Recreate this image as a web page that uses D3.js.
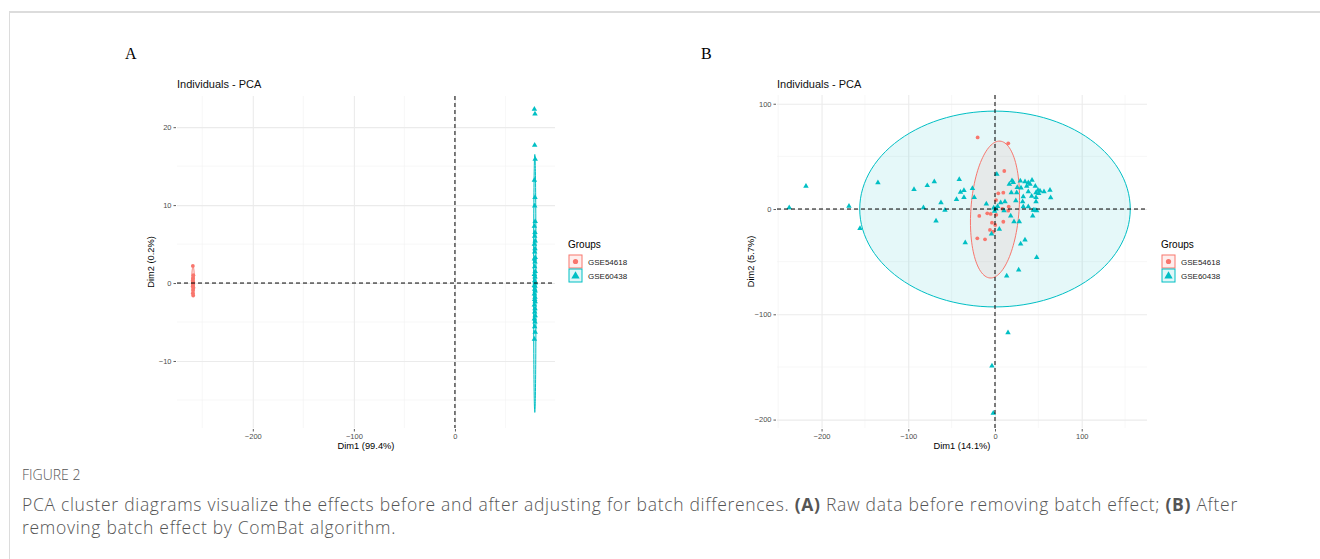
<!DOCTYPE html>
<html>
<head>
<meta charset="utf-8">
<script src="https://cdn.jsdelivr.net/npm/d3@7"></script>
<style>
  body { margin: 0; background: #fff; }
  text { font-family: "Liberation Sans", Arial, sans-serif; }
  text.cap { font-family: "Open Sans", "Noto Sans", sans-serif; fill: #555; font-weight: 300; }
</style>
</head>
<body>
<script>
// ---- data ----
var groups = ["GSE54618", "GSE60438"];
var groupColors = ["#F8766D", "#00BFC4"];

// panel A: raw data
var aRedX = [-259.3, -258.8, -259.1, -259.5, -258.9, -259.2, -259.0, -259.4, -258.7, -259.1, -259.3, -259.0];
var aRedY = [2.2, 1.0, 0.6, 0.3, 0.1, 0.0, -0.2, -0.4, -0.6, -0.9, -1.3, -1.6];
var aCyanY = [22.3, 21.7, 17.7, 15.9, 13.2, 11.0, 9.9, 7.9, 7.3, 6.5, 6.0, 5.4, 5.0, 4.4, 4.0, 3.3,
              3.1, 2.7, 2.1, 1.5, 1.1, 0.8, 0.3, 0.0, -0.3, -0.4, -0.8, -1.0, -1.4, -1.8, -2.1,
              -2.4, -2.8, -3.3, -3.7, -4.2, -4.6, -5.0, -5.6, -6.3, -7.2];
var aCyanX = aCyanY.map(function(d, i) { return [78.6, 79.2, 78.9, 79.4][i % 4]; });

// panel B: after ComBat
var bRed = [[-20, 68], [15.3, 62.4], [10.7, 36.1], [1.2, 8.5], [3.8, 14.9], [9.6, 15.5], [15.8, 2.2],
            [15.3, -1.6], [-18.1, -6.6], [-8.9, -4.1], [-5, -4.7], [-3.5, -13], [0.3, -15.2],
            [-5.8, -19.9], [9.6, -12.1], [-20.4, -27.8], [-11.5, -28.8], [-2, -21.6], [8.5, 0.2], [1.5, -5.5]];
var bCyan = [[-237.3, 1.2], [-218, 21.8], [-168.4, 2.8], [-155.7, -18.5], [-135, 25], [-93.4, 18.7],
             [-82.5, 1.2], [-78.1, 22.3], [-70, 25.9], [-68, -11.4], [-62.3, 6], [-57.7, -1], [-44.4, 9.2],
             [-41.2, 28.2], [-39.8, 15.9], [-35.8, 17.6], [-35.8, 11.1], [-26, 19.5], [-23.9, 11.1],
             [-34.3, -32], [-10, 4.9], [2.1, 33], [-1.5, 1], [1.2, 0], [-4, -23.7], [5, -19.2], [6.6, 6],
             [11.5, 6.9], [10.4, -1.6], [18.1, -6.6], [13.5, -63.6], [19.6, 27], [21.1, 25.2], [18.8, 15.5],
             [25, 15.5], [25.7, 20.6], [21.9, -12.1], [28, -12.1], [27.3, -57.9], [29.2, 26.6], [31.9, 6.9],
             [32.6, 2.2], [34.6, 25.9], [36.6, 21.8], [38.4, 25], [38.4, 16.4], [40.4, 23.7], [42.7, 27.5],
             [42.3, 12.3], [32.6, 11.7], [38.4, 2.2], [44.2, -1], [43.5, -6.6], [46.1, -1], [48.1, -1.6],
             [47.3, 15.5], [47.3, 11.1], [47.3, 6.9], [49.6, 18], [50.4, 14.9], [51.9, 17.1], [56.5, 16.4],
             [63.4, 18], [64.2, 10.7], [46.5, 21.8], [48.1, -45.9], [34.6, -29.4], [29.6, -33.2],
             [15, -117.5], [-3.5, -149], [-2, -194], [16.5, 23.5], [-0.5, -2], [3, 2.5], [24, 8], [30, 20]];

// concentration ellipses: centre + two half-axis vectors (data units)
var aEllipses = [{cx: -259.1, cy: 0.15, a: [0, 1.9], b: [1.4, 0]},
                 {cx: 79, cy: -0.05, a: [0, 16.55], b: [1.2, 0]}];
var bEllipses = [{cx: 0, cy: 0, a: [0, 93], b: [156, 0]},
                 {cx: 0, cy: -0.5, a: [5.8, 65], b: [27.7, -1.7]}];

var aXTicks = [-200, -100, 0], aYTicks = [-10, 0, 10, 20];
var bXTicks = [-200, -100, 0, 100], bYTicks = [-200, -100, 0, 100];

var svg = d3.select("body").append("svg")
    .attr("width", 1320).attr("height", 559);

// figure frame
svg.append("line").attr("x1", 9).attr("x2", 1320).attr("y1", 12).attr("y2", 12)
   .attr("stroke", "#dcdcdc").attr("stroke-width", 2);
svg.append("line").attr("x1", 9.5).attr("x2", 9.5).attr("y1", 12).attr("y2", 559)
   .attr("stroke", "#dcdcdc").attr("stroke-width", 1);

function ellipsePath(e, x, y) {
    var pts = d3.range(0, 361, 3).map(function(t) {
        var r = t * Math.PI / 180;
        return [x(e.cx + e.a[0] * Math.sin(r) + e.b[0] * Math.cos(r)),
                y(e.cy + e.a[1] * Math.sin(r) + e.b[1] * Math.cos(r))];
    });
    return d3.line()(pts) + "Z";
}

function drawPanel(p) {
    var g = svg.append("g");
    var x = d3.scaleLinear().domain(p.xDomain).range([p.left, p.right]);
    var y = d3.scaleLinear().domain(p.yDomain).range([p.bottom, p.top]);

    // panel letter + title
    g.append("text").attr("x", p.letterX).attr("y", 59)
     .style("font-family", "'Liberation Serif', 'Times New Roman', serif")
     .style("font-size", "16px").text(p.letter);
    g.append("text").attr("x", p.left).attr("y", 88)
     .style("font-size", "11px").attr("fill", "#111").text("Individuals - PCA");

    // minor grid
    var xMinor = d3.range(-250, 200, 100).filter(function(v) { return v >= p.xDomain[0] && v <= p.xDomain[1]; });
    g.selectAll(".xmin").data(xMinor).enter().append("line")
     .attr("x1", x).attr("x2", x).attr("y1", p.top).attr("y2", p.bottom)
     .attr("stroke", "#f2f2f2").attr("stroke-width", 0.6);
    g.selectAll(".ymin").data(p.yMinor).enter().append("line")
     .attr("y1", y).attr("y2", y).attr("x1", p.left).attr("x2", p.right)
     .attr("stroke", "#f2f2f2").attr("stroke-width", 0.6);

    // major grid via axes
    g.append("g").attr("transform", "translate(0," + p.bottom + ")")
     .call(d3.axisBottom(x).tickValues(p.xTicks).tickSize(-(p.bottom - p.top)).tickFormat(""))
     .call(function(s) { s.select(".domain").remove();
        s.selectAll("line").attr("stroke", "#ebebeb").attr("stroke-width", 1.1); });
    g.append("g").attr("transform", "translate(" + p.left + ",0)")
     .call(d3.axisLeft(y).tickValues(p.yTicks).tickSize(-(p.right - p.left)).tickFormat(""))
     .call(function(s) { s.select(".domain").remove();
        s.selectAll("line").attr("stroke", "#ebebeb").attr("stroke-width", 1.1); });

    // ellipses
    g.selectAll(".ell").data(p.ellipses).enter().append("path")
     .attr("d", function(e) { return ellipsePath(e, x, y); })
     .attr("fill", function(e, i) { return p.ellipseColors[i]; })
     .attr("fill-opacity", 0.1)
     .attr("stroke", function(e, i) { return p.ellipseColors[i]; })
     .attr("stroke-width", 1);

    // points
    g.selectAll(".red").data(p.red).enter().append("circle")
     .attr("cx", function(d) { return x(d[0]); }).attr("cy", function(d) { return y(d[1]); })
     .attr("r", 1.9).attr("fill", groupColors[0]);
    g.selectAll(".cyan").data(p.cyan).enter().append("path")
     .attr("d", d3.symbol().type(d3.symbolTriangle).size(13))
     .attr("transform", function(d) { return "translate(" + x(d[0]) + "," + y(d[1]) + ")"; })
     .attr("fill", groupColors[1]);

    // dashed reference lines
    g.append("line").attr("x1", p.left).attr("x2", p.right).attr("y1", y(0)).attr("y2", y(0))
     .attr("stroke", "#000").attr("stroke-width", 1).attr("stroke-dasharray", "4,3");
    g.append("line").attr("x1", x(0)).attr("x2", x(0)).attr("y1", p.top).attr("y2", p.bottom)
     .attr("stroke", "#000").attr("stroke-width", 1).attr("stroke-dasharray", "4,3");

    // axes with ticks and labels
    var xa = g.append("g").attr("transform", "translate(0," + (p.bottom + 1) + ")")
     .call(d3.axisBottom(x).tickValues(p.xTicks).tickSize(2.5).tickPadding(2));
    var ya = g.append("g").attr("transform", "translate(" + (p.left - 1) + ",0)")
     .call(d3.axisLeft(y).tickValues(p.yTicks).tickSize(2.5).tickPadding(2));
    [xa, ya].forEach(function(a) {
        a.select(".domain").remove();
        a.selectAll("line").attr("stroke", "#333").attr("stroke-width", 0.8);
        a.selectAll("text").attr("fill", "#4d4d4d").style("font-size", "7.5px")
         .style("font-family", "'Liberation Sans', Arial, sans-serif");
    });

    // axis titles
    g.append("text").attr("x", (p.left + p.right) / 2).attr("y", p.bottom + 21)
     .attr("text-anchor", "middle").style("font-size", "9.3px").text(p.xTitle);
    g.append("text")
     .attr("transform", "translate(" + (p.left - 23) + "," + ((p.top + p.bottom) / 2) + ")rotate(-90)")
     .attr("text-anchor", "middle").style("font-size", "9.3px").text(p.yTitle);

    // legend
    var lg = g.append("g").attr("transform", "translate(" + p.legendX + ",248)");
    lg.append("text").attr("x", 0).attr("y", 0).style("font-size", "10px").text("Groups");
    groups.forEach(function(name, i) {
        var row = lg.append("g").attr("transform", "translate(1," + (7 + i * 14) + ")");
        row.append("rect").attr("width", 13).attr("height", 13)
           .attr("fill", groupColors[i]).attr("fill-opacity", 0.12)
           .attr("stroke", groupColors[i]).attr("stroke-width", 1);
        if (i === 0) {
            row.append("circle").attr("cx", 6.5).attr("cy", 6.5).attr("r", 2.6).attr("fill", groupColors[0]);
        } else {
            row.append("path").attr("d", d3.symbol().type(d3.symbolTriangle).size(30))
               .attr("transform", "translate(6.5,7)").attr("fill", groupColors[1]);
        }
        row.append("text").attr("x", 19).attr("y", 9.5).style("font-size", "8px")
           .attr("fill", "#222").text(name);
    });
}

drawPanel({
    letter: "A", letterX: 125,
    left: 177, right: 555, top: 96, bottom: 428,
    xDomain: [-275, 99], yDomain: [-18.6, 24.0],
    xTicks: aXTicks, yTicks: aYTicks, yMinor: [-15, -5, 5, 15],
    ellipses: aEllipses, ellipseColors: [groupColors[0], groupColors[1]],
    red: aRedX.map(function(v, i) { return [v, aRedY[i]]; }),
    cyan: aCyanX.map(function(v, i) { return [v, aCyanY[i]]; }),
    xTitle: "Dim1 (99.4%)", yTitle: "Dim2 (0.2%)", legendX: 568
});

drawPanel({
    letter: "B", letterX: 701,
    left: 777, right: 1147, top: 95, bottom: 428,
    xDomain: [-251.4, 175.3], yDomain: [-208, 108.3],
    xTicks: bXTicks, yTicks: bYTicks, yMinor: [-150, -50, 50],
    ellipses: bEllipses, ellipseColors: [groupColors[1], groupColors[0]],
    red: bRed, cyan: bCyan,
    xTitle: "Dim1 (14.1%)", yTitle: "Dim2 (5.7%)", legendX: 1161
});

// caption
var cap = svg.append("g");
cap.append("text").attr("class", "cap").attr("x", 22).attr("y", 480).style("font-size", "14px").text("FIGURE 2");
var l1 = cap.append("text").attr("class", "cap").attr("x", 22).attr("y", 511)
   .style("font-size", "17.5px").style("letter-spacing", "0.7px");
l1.append("tspan").text("PCA cluster diagrams visualize the effects before and after adjusting for batch differences. ");
l1.append("tspan").style("font-weight", "bold").text("(A)");
l1.append("tspan").text(" Raw data before removing batch effect; ");
l1.append("tspan").style("font-weight", "bold").text("(B)");
l1.append("tspan").text(" After");
cap.append("text").attr("class", "cap").attr("x", 22).attr("y", 534)
   .style("font-size", "17.5px").style("letter-spacing", "0.7px")
   .text("removing batch effect by ComBat algorithm.");
</script>
</body>
</html>
